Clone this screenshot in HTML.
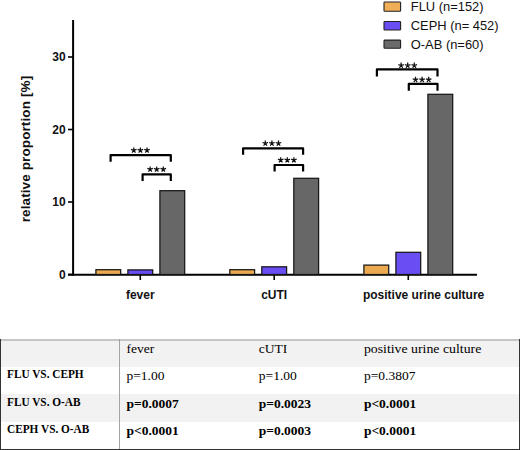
<!DOCTYPE html>
<html><head><meta charset="utf-8"><style>
html,body{margin:0;padding:0;background:#fff;}
body{width:520px;height:450px;position:relative;overflow:hidden;}
svg{position:absolute;left:0;top:0;}
.t{font-family:"Liberation Sans",sans-serif;}
.s{font-family:"Liberation Serif",serif;}
</style></head><body>
<svg width="520" height="450" viewBox="0 0 520 450">
<g class="t" font-weight="bold" font-size="12" fill="#111"><line x1="68" x2="73" y1="274.5" y2="274.5" stroke="#000" stroke-width="1.6"/><text x="65.7" y="278.9" text-anchor="end">0</text><line x1="68" x2="73" y1="202" y2="202" stroke="#000" stroke-width="1.6"/><text x="65.7" y="206.4" text-anchor="end">10</text><line x1="68" x2="73" y1="129.5" y2="129.5" stroke="#000" stroke-width="1.6"/><text x="65.7" y="133.9" text-anchor="end">20</text><line x1="68" x2="73" y1="57" y2="57" stroke="#000" stroke-width="1.6"/><text x="65.7" y="61.4" text-anchor="end">30</text></g>
<line x1="73.1" x2="73.1" y1="20" y2="275.6" stroke="#000" stroke-width="2"/>
<line x1="68" x2="477" y1="274.7" y2="274.7" stroke="#000" stroke-width="2"/>
<line x1="140.3" x2="140.3" y1="274" y2="280" stroke="#000" stroke-width="1.6"/><line x1="274.2" x2="274.2" y1="274" y2="280" stroke="#000" stroke-width="1.6"/><line x1="408.3" x2="408.3" y1="274" y2="280" stroke="#000" stroke-width="1.6"/>
<rect x="95.9" y="269.7" width="24.8" height="4.8" fill="#ECAA50" stroke="#161616" stroke-width="1.25"/><rect x="127.9" y="269.9" width="24.8" height="4.6" fill="#6A4DF3" stroke="#161616" stroke-width="1.25"/><rect x="159.9" y="190.7" width="24.8" height="83.8" fill="#676767" stroke="#161616" stroke-width="1.25"/><rect x="229.8" y="269.7" width="24.8" height="4.8" fill="#ECAA50" stroke="#161616" stroke-width="1.25"/><rect x="261.8" y="266.8" width="24.8" height="7.7" fill="#6A4DF3" stroke="#161616" stroke-width="1.25"/><rect x="293.8" y="178.3" width="24.8" height="96.2" fill="#676767" stroke="#161616" stroke-width="1.25"/><rect x="363.9" y="265.1" width="24.8" height="9.4" fill="#ECAA50" stroke="#161616" stroke-width="1.25"/><rect x="395.9" y="252.3" width="24.8" height="22.2" fill="#6A4DF3" stroke="#161616" stroke-width="1.25"/><rect x="427.9" y="94.3" width="24.8" height="180.2" fill="#676767" stroke="#161616" stroke-width="1.25"/>
<path d="M110.6,161.8 V155.2 H170.8 V161.8" fill="none" stroke="#000" stroke-width="2.2" stroke-linejoin="round"/><g fill="#111"><path d="M133.80,150.30L133.80,147.40M133.80,150.30L136.56,149.40M133.80,150.30L135.50,152.65M133.80,150.30L132.10,152.65M133.80,150.30L131.04,149.40M140.40,150.30L140.40,147.40M140.40,150.30L143.16,149.40M140.40,150.30L142.10,152.65M140.40,150.30L138.70,152.65M140.40,150.30L137.64,149.40M147.00,150.30L147.00,147.40M147.00,150.30L149.76,149.40M147.00,150.30L148.70,152.65M147.00,150.30L145.30,152.65M147.00,150.30L144.24,149.40" stroke="#111" stroke-width="1.25" fill="none"/></g><path d="M142.6,181 V174.3 H170.8 V181" fill="none" stroke="#000" stroke-width="2.2" stroke-linejoin="round"/><g fill="#111"><path d="M150.10,169.30L150.10,166.40M150.10,169.30L152.86,168.40M150.10,169.30L151.80,171.65M150.10,169.30L148.40,171.65M150.10,169.30L147.34,168.40M156.70,169.30L156.70,166.40M156.70,169.30L159.46,168.40M156.70,169.30L158.40,171.65M156.70,169.30L155.00,171.65M156.70,169.30L153.94,168.40M163.30,169.30L163.30,166.40M163.30,169.30L166.06,168.40M163.30,169.30L165.00,171.65M163.30,169.30L161.60,171.65M163.30,169.30L160.54,168.40" stroke="#111" stroke-width="1.25" fill="none"/></g><path d="M243.1,154.8 V148.3 H303.1 V154.8" fill="none" stroke="#000" stroke-width="2.2" stroke-linejoin="round"/><g fill="#111"><path d="M265.30,143.40L265.30,140.50M265.30,143.40L268.06,142.50M265.30,143.40L267.00,145.75M265.30,143.40L263.60,145.75M265.30,143.40L262.54,142.50M271.90,143.40L271.90,140.50M271.90,143.40L274.66,142.50M271.90,143.40L273.60,145.75M271.90,143.40L270.20,145.75M271.90,143.40L269.14,142.50M278.50,143.40L278.50,140.50M278.50,143.40L281.26,142.50M278.50,143.40L280.20,145.75M278.50,143.40L276.80,145.75M278.50,143.40L275.74,142.50" stroke="#111" stroke-width="1.25" fill="none"/></g><path d="M274.6,171.5 V165 H303.1 V171.5" fill="none" stroke="#000" stroke-width="2.2" stroke-linejoin="round"/><g fill="#111"><path d="M280.70,160.10L280.70,157.20M280.70,160.10L283.46,159.20M280.70,160.10L282.40,162.45M280.70,160.10L279.00,162.45M280.70,160.10L277.94,159.20M287.30,160.10L287.30,157.20M287.30,160.10L290.06,159.20M287.30,160.10L289.00,162.45M287.30,160.10L285.60,162.45M287.30,160.10L284.54,159.20M293.90,160.10L293.90,157.20M293.90,160.10L296.66,159.20M293.90,160.10L295.60,162.45M293.90,160.10L292.20,162.45M293.90,160.10L291.14,159.20" stroke="#111" stroke-width="1.25" fill="none"/></g><path d="M376.9,76.4 V69.4 H437.5 V76.4" fill="none" stroke="#000" stroke-width="2.2" stroke-linejoin="round"/><g fill="#111"><path d="M401.10,65.50L401.10,62.60M401.10,65.50L403.86,64.60M401.10,65.50L402.80,67.85M401.10,65.50L399.40,67.85M401.10,65.50L398.34,64.60M407.70,65.50L407.70,62.60M407.70,65.50L410.46,64.60M407.70,65.50L409.40,67.85M407.70,65.50L406.00,67.85M407.70,65.50L404.94,64.60M414.30,65.50L414.30,62.60M414.30,65.50L417.06,64.60M414.30,65.50L416.00,67.85M414.30,65.50L412.60,67.85M414.30,65.50L411.54,64.60" stroke="#111" stroke-width="1.25" fill="none"/></g><path d="M408.8,90.8 V83.8 H437.5 V90.8" fill="none" stroke="#000" stroke-width="2.2" stroke-linejoin="round"/><g fill="#111"><path d="M415.50,79.70L415.50,76.80M415.50,79.70L418.26,78.80M415.50,79.70L417.20,82.05M415.50,79.70L413.80,82.05M415.50,79.70L412.74,78.80M422.10,79.70L422.10,76.80M422.10,79.70L424.86,78.80M422.10,79.70L423.80,82.05M422.10,79.70L420.40,82.05M422.10,79.70L419.34,78.80M428.70,79.70L428.70,76.80M428.70,79.70L431.46,78.80M428.70,79.70L430.40,82.05M428.70,79.70L427.00,82.05M428.70,79.70L425.94,78.80" stroke="#111" stroke-width="1.25" fill="none"/></g>
<g class="t" font-weight="bold" font-size="12" fill="#111" text-anchor="middle">
<text x="140.3" y="298.9">fever</text><text x="274.2" y="298.9">cUTI</text><text x="423.6" y="298.9">positive urine culture</text>
</g>
<text class="t" font-weight="bold" font-size="13.5" fill="#111" text-anchor="middle" textLength="146.5" lengthAdjust="spacing" transform="translate(29.6,149.1) rotate(-90)">relative proportion [%]</text>
<g class="t" font-size="12.9" fill="#111">
<rect x="384" y="2" width="16.6" height="9.2" rx="0.8" fill="#EFAE57" stroke="#222" stroke-width="1.1"/>
<rect x="384" y="21.5" width="16.6" height="8.5" rx="0.8" fill="#6A4DF3" stroke="#222" stroke-width="1.1"/>
<rect x="384" y="40.1" width="16.6" height="8.2" rx="0.8" fill="#6A6A6A" stroke="#222" stroke-width="1.1"/>
<text x="410.8" y="10.5">FLU (n=152)</text>
<text x="410.8" y="29.8">CEPH (n= 452)</text>
<text x="410.8" y="48.5">O-AB (n=60)</text>
</g>
<rect x="0" y="341" width="520" height="26" fill="#f2f2f2"/><rect x="0" y="394" width="520" height="28" fill="#f2f2f2"/><rect x="0" y="339" width="520" height="2" fill="#c6c6c6"/><rect x="119" y="339" width="1" height="110" fill="#a4a4a4"/><rect x="0" y="339" width="1" height="111" fill="#333"/><rect x="519" y="339" width="1" height="111" fill="#333"/><rect x="0" y="449" width="520" height="1" fill="#333"/>
<g class="s" font-size="13.5" fill="#000"><text x="126.5" y="352.7">fever</text><text x="258.8" y="352.7">cUTI</text><text x="363.9" y="352.7" textLength="117.4" lengthAdjust="spacingAndGlyphs">positive urine culture</text><text transform="translate(7,378.4) scale(1,1.13)" font-weight="bold" font-size="11.3">FLU VS. CEPH</text><text x="126.5" y="379.7">p=1.00</text><text x="258.8" y="379.7">p=1.00</text><text x="363.9" y="379.7">p=0.3807</text><text transform="translate(7,405.9) scale(1,1.13)" font-weight="bold" font-size="11.3">FLU VS. O-AB</text><text x="126.5" y="407.6" font-weight="bold">p=0.0007</text><text x="258.8" y="407.6" font-weight="bold">p=0.0023</text><text x="363.9" y="407.6" font-weight="bold">p&lt;0.0001</text><text transform="translate(7,433) scale(1,1.13)" font-weight="bold" font-size="11.3">CEPH VS. O-AB</text><text x="126.5" y="434.7" font-weight="bold">p&lt;0.0001</text><text x="258.8" y="434.7" font-weight="bold">p=0.0003</text><text x="363.9" y="434.7" font-weight="bold">p&lt;0.0001</text></g>
</svg>
</body></html>
